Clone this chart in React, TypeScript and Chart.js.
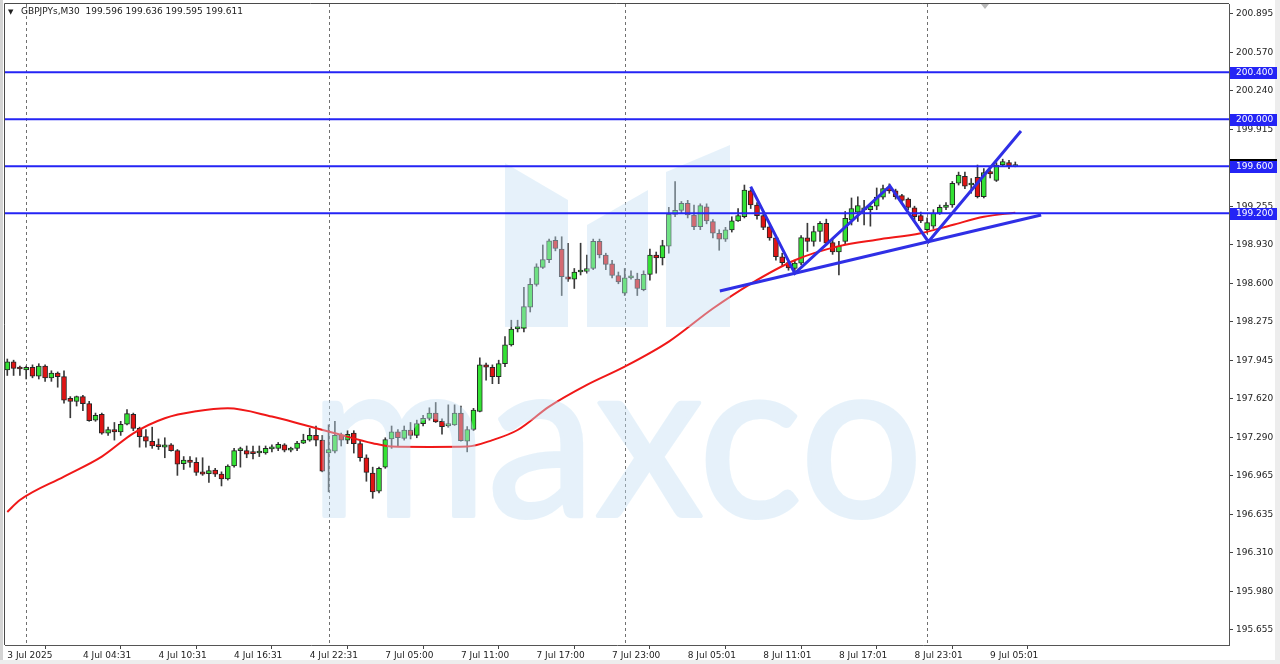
import React, { useEffect, useRef } from "react";
import { Chart, registerables } from "chart.js";

Chart.register(...registerables);

// ---------- data ----------
const symbolTitle = "GBPJPYs,M30";
const lastQuote = ["199.596", "199.636", "199.595", "199.611"];

const opens = [
  197.867, 197.935, 197.88, 197.867, 197.89, 197.815, 197.9, 197.8, 197.84, 197.81,
  197.625, 197.6, 197.64, 197.58, 197.44, 197.49, 197.33, 197.36, 197.34, 197.405,
  197.49, 197.37, 197.3, 197.26, 197.22, 197.21, 197.23, 197.18, 197.07, 197.1,
  197.08, 197.0, 196.985, 197.015, 196.98, 196.94, 197.05, 197.18, 197.18, 197.16,
  197.16, 197.16, 197.195, 197.2, 197.23, 197.185, 197.2, 197.245, 197.27, 197.31,
  197.27, 197.16, 197.175, 197.31, 197.27, 197.33, 197.24, 197.12, 196.99, 196.835,
  197.04, 197.28, 197.34, 197.285, 197.355, 197.31, 197.41, 197.455, 197.5, 197.43,
  197.39, 197.4, 197.5, 197.26, 197.36, 197.515, 197.91, 197.89, 197.81, 197.92,
  198.08, 198.215, 198.22, 198.4, 198.595, 198.74, 198.805, 198.97, 198.895, 198.66,
  198.64, 198.7, 198.705, 198.73, 198.96, 198.845, 198.77, 198.67, 198.52, 198.65,
  198.64, 198.55, 198.68, 198.845, 198.82, 198.92, 199.19, 199.225, 199.285, 199.185,
  199.085, 199.255, 199.13, 199.03, 198.98, 199.058, 199.135, 199.17, 199.39, 199.27,
  199.18, 199.085, 198.99, 198.83, 198.78, 198.73, 198.775, 198.99, 198.96, 199.045,
  199.115, 198.95, 198.87, 198.96, 199.14, 199.21, 199.23, 199.23, 199.26, 199.337,
  199.42, 199.39, 199.35, 199.32, 199.245, 199.18, 199.06, 199.09, 199.2, 199.25,
  199.27, 199.455, 199.515, 199.44, 199.505, 199.34, 199.555, 199.48, 199.61, 199.63,
  199.596,
];
const highs = [
  197.96, 197.95, 197.9, 197.9, 197.91, 197.92, 197.91, 197.86, 197.85, 197.86,
  197.64, 197.645, 197.65, 197.6, 197.5, 197.5, 197.38, 197.42, 197.43, 197.53,
  197.5, 197.38, 197.36, 197.38, 197.28, 197.29, 197.24, 197.19, 197.13, 197.13,
  197.12, 197.12, 197.05, 197.03, 197.0, 197.06, 197.2, 197.21, 197.22, 197.22,
  197.22, 197.22, 197.23, 197.25, 197.24, 197.21, 197.26, 197.32, 197.37, 197.39,
  197.31, 197.4, 197.43, 197.33, 197.35, 197.35, 197.26, 197.145, 197.04, 197.04,
  197.29, 197.39, 197.36, 197.39, 197.42, 197.44, 197.48, 197.545, 197.59, 197.45,
  197.57, 197.57, 197.56, 197.385, 197.54, 197.97, 197.925, 197.91, 197.95, 198.15,
  198.29, 198.29, 198.57, 198.645, 198.77, 198.93, 198.98, 199.0, 199.0, 198.945,
  198.73, 198.945, 198.845, 198.98, 198.98, 198.86, 198.8, 198.7, 198.73, 198.71,
  198.69, 198.71, 198.895, 198.87, 198.97, 199.25, 199.47, 199.3, 199.31, 199.27,
  199.28, 199.28, 199.145, 199.06, 199.08, 199.17, 199.24, 199.44, 199.4, 199.29,
  199.2, 199.1, 199.01, 198.86, 198.79, 198.8, 199.01, 199.115, 199.09, 199.13,
  199.15, 198.98, 198.96, 199.215, 199.33, 199.34, 199.31, 199.28, 199.415, 199.44,
  199.45, 199.405, 199.36, 199.33, 199.26, 199.21, 199.16, 199.23, 199.27, 199.29,
  199.47, 199.55, 199.55, 199.495, 199.61, 199.58, 199.57, 199.63, 199.66, 199.65,
  199.636,
];
const lows = [
  197.82, 197.82, 197.82, 197.79, 197.8, 197.79, 197.77, 197.77, 197.72, 197.585,
  197.46, 197.56, 197.52, 197.43, 197.43, 197.32, 197.31, 197.27, 197.31, 197.4,
  197.35, 197.21, 197.21, 197.2, 197.19, 197.12, 197.175, 196.97, 197.02, 197.04,
  196.97, 196.97, 196.91, 196.96, 196.88, 196.93, 197.04, 197.04, 197.12, 197.11,
  197.13, 197.15, 197.17, 197.18, 197.17, 197.17, 197.18, 197.24, 197.26, 197.22,
  197.0, 196.83, 197.16, 197.22, 197.24, 197.16, 197.09, 196.92, 196.775, 196.82,
  197.03, 197.2, 197.22, 197.27, 197.28, 197.29, 197.39, 197.44, 197.42, 197.32,
  197.38, 197.395, 197.26, 197.17, 197.35, 197.51, 197.78, 197.75, 197.75, 197.895,
  198.07, 198.19, 198.19, 198.36, 198.58, 198.73, 198.78, 198.88, 198.5, 198.62,
  198.56, 198.675, 198.69, 198.72, 198.82, 198.72, 198.65, 198.6, 198.5, 198.64,
  198.5, 198.54, 198.63, 198.69, 198.76, 198.86, 199.17, 199.2, 199.16, 199.06,
  199.06, 199.11, 198.99, 198.885, 198.96, 199.04, 199.13, 199.16, 199.24, 199.15,
  199.06, 198.97, 198.8, 198.75, 198.715, 198.69, 198.76, 198.875, 198.92, 198.96,
  198.93, 198.85, 198.675, 198.94, 199.1, 199.13, 199.1, 199.09, 199.23, 199.32,
  199.37, 199.32, 199.29, 199.23, 199.14, 199.12, 199.03, 199.07, 199.19, 199.23,
  199.25, 199.44, 199.41, 199.37, 199.33, 199.33, 199.5, 199.47, 199.6, 199.58,
  199.595,
];
const closes = [
  197.935, 197.88, 197.875, 197.89, 197.815, 197.9, 197.8, 197.84, 197.81, 197.61,
  197.6, 197.64, 197.58, 197.435, 197.48, 197.33, 197.36, 197.34, 197.405, 197.495,
  197.37, 197.3, 197.26, 197.22, 197.215, 197.23, 197.18, 197.065, 197.1, 197.08,
  196.995, 196.98, 197.01, 196.98, 196.94, 197.05, 197.18, 197.19, 197.15, 197.155,
  197.165, 197.2, 197.2, 197.235, 197.185, 197.2, 197.245, 197.27, 197.31, 197.27,
  197.006, 197.19, 197.31, 197.27, 197.32, 197.24, 197.12, 196.995, 196.83, 197.03,
  197.275, 197.34, 197.29, 197.355, 197.31, 197.41, 197.455, 197.5, 197.425, 197.385,
  197.41, 197.5, 197.265, 197.36, 197.525, 197.91, 197.89, 197.81, 197.92, 198.08,
  198.215, 198.235, 198.405, 198.595, 198.745, 198.805, 198.965, 198.9, 198.66, 198.64,
  198.7, 198.705, 198.73, 198.96, 198.845, 198.765, 198.67, 198.615, 198.65, 198.655,
  198.56, 198.68, 198.845, 198.82, 198.925, 199.19, 199.225, 199.285, 199.185, 199.085,
  199.265, 199.135, 199.03, 198.98, 199.058, 199.135, 199.18, 199.398, 199.27, 199.18,
  199.08, 198.99, 198.83, 198.78, 198.735, 198.775, 198.992, 198.96, 199.045, 199.115,
  198.945, 198.87, 198.92, 199.157, 199.24, 199.265, 199.235, 199.26, 199.337, 199.41,
  199.39, 199.34, 199.31, 199.25, 199.17, 199.135, 199.12, 199.2, 199.25, 199.27,
  199.455, 199.525, 199.43, 199.44, 199.34, 199.545, 199.535, 199.61, 199.64, 199.605,
  199.611,
];

const maIndex = [0, 2, 9, 15, 20, 25, 30, 35, 42, 47, 52, 58, 61, 67, 73, 77, 81, 86, 92, 98, 105, 112, 118, 125, 132, 138, 145, 150, 155, 160];
const maValue = [196.659, 196.76, 196.96, 197.13, 197.328, 197.456, 197.515, 197.54, 197.47, 197.4, 197.328, 197.244, 197.215, 197.212, 197.215, 197.27, 197.356, 197.555, 197.74, 197.895, 198.108, 198.39, 198.6, 198.8, 198.92, 198.975, 199.03, 199.1, 199.17, 199.205];

const xTickIndex = [0, 12, 24, 36, 48, 60, 72, 84, 96, 108, 120, 132, 144, 156];
const xTickLabels = [
  "3 Jul 2025", "4 Jul 04:31", "4 Jul 10:31", "4 Jul 16:31", "4 Jul 22:31",
  "7 Jul 05:00", "7 Jul 11:00", "7 Jul 17:00", "7 Jul 23:00",
  "8 Jul 05:01", "8 Jul 11:01", "8 Jul 17:01", "8 Jul 23:01", "9 Jul 05:01",
];
const yTicks = [200.895, 200.57, 200.24, 199.915, 199.255, 198.93, 198.6, 198.275, 197.945, 197.62, 197.29, 196.965, 196.635, 196.31, 195.98, 195.655];

const levels = [200.4, 200.0, 199.6, 199.2];
const levelLabels = ["200.400", "200.000", "199.600", "199.200"];
const bidPrice = 199.611;

const supportX = [113.1, 164.1];
const supportY = [198.539, 199.185];
const zigzagX = [118.0, 125.0, 140.1, 146.2, 160.9];
const zigzagY = [199.426, 198.689, 199.432, 198.958, 199.9];

const daySeparators = [3, 51, 98, 146];
const watermarkText = "maxco";

const xMin = -0.365;
const xMax = 193.92;
const yMin = 195.527;
const yMax = 200.98;

// ---------- styles ----------
const BULL = "#33e233";
const BEAR = "#e01414";
const OUTLINE = "#262626";
const LEVEL_BLUE = "#2424f5";
const TREND_BLUE = "#2f2fe6";
const MA_RED = "#f01818";
const WM_COLOR = "rgb(196,224,244)";
const WM_ALPHA = 0.42;
const FONT = "DejaVu Sans";

function drawWatermark(ctx: CanvasRenderingContext2D, W: number, H: number) {
  const off = document.createElement("canvas");
  off.width = W;
  off.height = H;
  const o = off.getContext("2d");
  if (!o) return;
  o.fillStyle = WM_COLOR;
  o.strokeStyle = WM_COLOR;
  const polys = [
    [[505, 163], [568, 200], [568, 327], [505, 327]],
    [[587, 225], [648, 190], [648, 327], [587, 327]],
    [[666, 172], [730, 145], [730, 327], [666, 327]],
  ];
  polys.forEach((p) => {
    o.beginPath();
    o.moveTo(p[0][0], p[0][1]);
    for (let k = 1; k < p.length; k++) o.lineTo(p[k][0], p[k][1]);
    o.closePath();
    o.fill();
  });
  o.font = "400 224px Lato";
  o.textBaseline = "alphabetic";
  o.textAlign = "left";
  const w = o.measureText(watermarkText).width;
  o.save();
  o.translate(309, 516);
  o.scale(614 / w, 1);
  o.lineWidth = 4;
  o.lineJoin = "round";
  o.fillText(watermarkText, 0, 0);
  o.strokeText(watermarkText, 0, 0);
  o.restore();
  ctx.save();
  ctx.globalAlpha = WM_ALPHA;
  ctx.drawImage(off, 0, 0);
  ctx.restore();
}

const overlay = {
  id: "mt4overlay",
  beforeDraw(chart: any) {
    const { ctx, width, height } = chart;
    ctx.save();
    ctx.fillStyle = "#ffffff";
    ctx.fillRect(0, 0, width, height);
    ctx.fillStyle = "#d4d4d4";
    ctx.fillRect(0, 0, 3, height);
    ctx.fillStyle = "#ededed";
    ctx.fillRect(1275, 0, width - 1275, height);
    ctx.fillRect(0, 660, width, height - 660);
    ctx.restore();
  },
  beforeDatasetsDraw(chart: any) {
    const { ctx, chartArea, scales } = chart;
    ctx.save();
    ctx.strokeStyle = "#707070";
    ctx.lineWidth = 1;
    ctx.setLineDash([3, 3]);
    daySeparators.forEach((d) => {
      const x = Math.round(scales.x.getPixelForValue(d)) + 0.5;
      ctx.beginPath();
      ctx.moveTo(x, chartArea.top);
      ctx.lineTo(x, chartArea.bottom);
      ctx.stroke();
    });
    ctx.restore();
  },
  afterDatasetDraw(chart: any, args: any) {
    const ds = chart.data.datasets[args.index];
    if (!ds || ds.label !== "MA") return;
    drawWatermark(chart.ctx, chart.width, chart.height);
  },
  afterDraw(chart: any) {
    const { ctx, chartArea, scales } = chart;
    ctx.save();
    // frame
    ctx.strokeStyle = "#4a4a4a";
    ctx.lineWidth = 1;
    ctx.beginPath();
    ctx.moveTo(chartArea.left - 0.5, chartArea.bottom);
    ctx.lineTo(chartArea.left - 0.5, chartArea.top - 0.5);
    ctx.lineTo(chartArea.right, chartArea.top - 0.5);
    ctx.stroke();
    // header
    ctx.fillStyle = "#202020";
    ctx.font = `7px ${FONT}`;
    ctx.textBaseline = "middle";
    ctx.fillText("\u25BC", 8, 12);
    ctx.font = `9px ${FONT}`;
    ctx.fillText(`${symbolTitle}  ${lastQuote.join(" ")}`, 21, 12);
    // shift marker
    ctx.fillStyle = "#b8b8b8";
    ctx.beginPath();
    ctx.moveTo(981, 4);
    ctx.lineTo(989, 4);
    ctx.lineTo(985, 9);
    ctx.closePath();
    ctx.fill();
    // bid marker (mostly hidden behind the 199.600 label)
    const by = Math.round(scales.y.getPixelForValue(bidPrice));
    ctx.fillStyle = "#000000";
    ctx.fillRect(1230, by - 6, 47, 3);
    // level labels
    ctx.font = `9px ${FONT}`;
    ctx.textAlign = "left";
    levels.forEach((lv, k) => {
      const y = Math.round(scales.y.getPixelForValue(lv));
      ctx.fillStyle = LEVEL_BLUE;
      ctx.fillRect(1230, y - 5, 47, 12);
      ctx.fillStyle = "#ffffff";
      ctx.fillText(levelLabels[k], 1236, y + 1);
    });
    ctx.restore();
  },
};

export default function App() {
  const ref = useRef<HTMLCanvasElement | null>(null);

  useEffect(() => {
    document.body.style.margin = "0";
    const canvas = ref.current;
    if (!canvas) return;

    const bodyData = opens.map((o, i) => ({ x: i, y: [o, closes[i]] }));
    const wickData = lows.map((l, i) => ({ x: i, y: [l, highs[i]] }));
    const maData = maIndex.map((x, k) => ({ x, y: maValue[k] }));

    const levelSets = levels.map((lv, k) => ({
      type: "line" as const,
      label: "level" + k,
      data: [
        { x: xMin, y: lv },
        { x: xMax, y: lv },
      ],
      borderColor: LEVEL_BLUE,
      borderWidth: 2,
      pointRadius: 0,
      order: 3,
    }));

    const chart = new Chart(canvas, {
      type: "bar",
      data: {
        datasets: [
          {
            type: "bar",
            label: "wick",
            data: wickData as any,
            backgroundColor: "#3a3a3a",
            barThickness: 1,
            grouped: false,
            order: 6,
          } as any,
          {
            type: "bar",
            label: "body",
            data: bodyData as any,
            backgroundColor: (c: any) =>
              closes[c.dataIndex] >= opens[c.dataIndex] ? BULL : BEAR,
            borderColor: OUTLINE,
            borderWidth: 1,
            borderSkipped: false,
            barThickness: 5,
            minBarLength: 2,
            grouped: false,
            order: 5,
          } as any,
          {
            type: "line",
            label: "MA",
            data: maData as any,
            borderColor: MA_RED,
            borderWidth: 2,
            pointRadius: 0,
            cubicInterpolationMode: "monotone",
            order: 4,
          } as any,
          ...(levelSets as any[]),
          {
            type: "line",
            label: "support",
            data: supportX.map((x, k) => ({ x, y: supportY[k] })) as any,
            borderColor: TREND_BLUE,
            borderWidth: 3,
            pointRadius: 0,
            order: 2,
          } as any,
          {
            type: "line",
            label: "zigzag",
            data: zigzagX.map((x, k) => ({ x, y: zigzagY[k] })) as any,
            borderColor: TREND_BLUE,
            borderWidth: 3,
            pointRadius: 0,
            order: 1,
          } as any,
        ],
      },
      options: {
        responsive: false,
        animation: false,
        layout: { padding: { left: 5, top: 4, right: 0, bottom: 0 } },
        plugins: { legend: { display: false }, tooltip: { enabled: false } },
        events: [],
        scales: {
          x: {
            type: "linear",
            min: xMin,
            max: xMax,
            offset: false,
            bounds: "data",
            grid: {
              display: true,
              drawOnChartArea: false,
              drawTicks: true,
              tickLength: 4,
              color: "#444",
            },
            border: { display: true, color: "#555" },
            ticks: {
              autoSkip: false,
              maxRotation: 0,
              minRotation: 0,
              align: "start",
              padding: 1,
              color: "#222",
              font: { family: FONT, size: 9 },
              callback: (v: any) => {
                const k = xTickIndex.indexOf(Number(v));
                return k >= 0 ? xTickLabels[k] : "";
              },
            },
            afterBuildTicks: (s: any) => {
              s.ticks = xTickIndex.map((v) => ({ value: v }));
            },
            afterFit: (s: any) => {
              s.height = 19;
              s.paddingLeft = 0;
              s.paddingRight = 0;
            },
          } as any,
          y: {
            type: "linear",
            position: "right",
            min: yMin,
            max: yMax,
            bounds: "data",
            grid: {
              display: true,
              drawOnChartArea: false,
              drawTicks: true,
              tickLength: 4,
              color: "#444",
            },
            border: { display: true, color: "#555" },
            ticks: {
              autoSkip: false,
              padding: 3,
              color: "#222",
              font: { family: FONT, size: 9 },
              callback: (v: any) => Number(v).toFixed(3),
            },
            afterBuildTicks: (s: any) => {
              s.ticks = yTicks.map((v) => ({ value: v }));
            },
            afterFit: (s: any) => {
              s.width = 51;
              s.paddingTop = 0;
              s.paddingBottom = 0;
            },
          } as any,
        },
      },
      plugins: [overlay],
    });

    return () => chart.destroy();
  }, []);

  return (
    <div style={{ width: 1280, height: 664 }}>
      <canvas ref={ref} width={1280} height={664} style={{ display: "block" }} />
    </div>
  );
}
